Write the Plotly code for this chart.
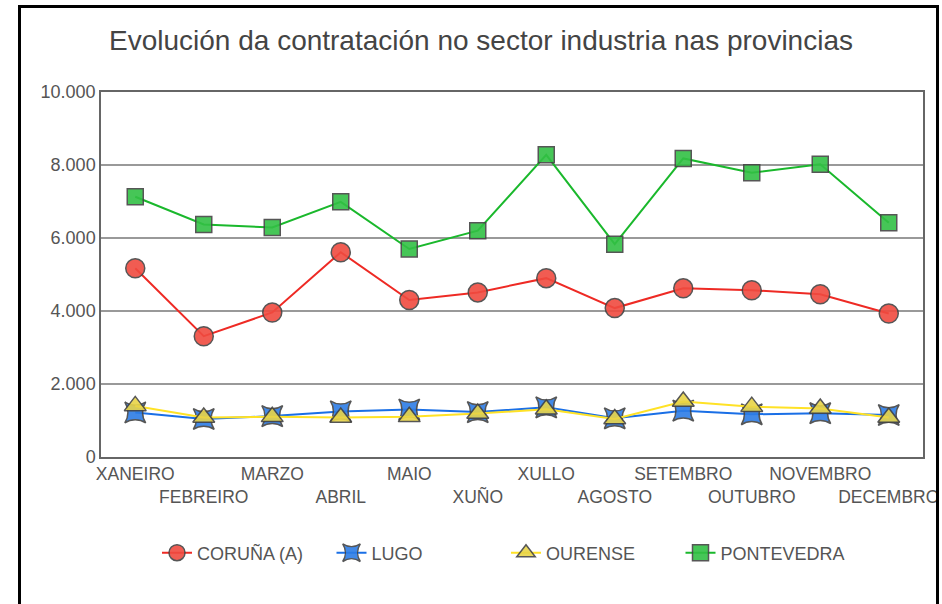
import plotly.graph_objects as go

months = ["XANEIRO", "FEBREIRO", "MARZO", "ABRIL", "MAIO", "XUÑO", "XULLO",
          "AGOSTO", "SETEMBRO", "OUTUBRO", "NOVEMBRO", "DECEMBRO"]

coruna = [5170, 3310, 3960, 5610, 4300, 4510, 4900, 4080, 4620, 4570, 4460, 3930]
lugo = [1220, 1040, 1120, 1250, 1300, 1230, 1360, 1060, 1270, 1170, 1200, 1150]
ourense = [1400, 1080, 1100, 1080, 1100, 1190, 1310, 1040, 1520, 1380, 1330, 1080]
pontevedra = [7130, 6370, 6290, 6990, 5700, 6200, 8280, 5830, 8180, 7790, 8020, 6420]

y_ticks = [0, 2000, 4000, 6000, 8000, 10000]
y_tick_labels = ["0", "2.000", "4.000", "6.000", "8.000", "10.000"]

title_text = "Evolución da contratación no sector industria nas provincias"

FONT = "Liberation Sans, Arial, sans-serif"

series = [
    ("CORUÑA (A)", coruna, "#ee2a24", "#f04b40", "circle", 19),
    ("LUGO", lugo, "#1a6fe6", "#2d7de6", "star-square", 19),
    ("OURENSE", ourense, "#ffe226", "#e8d448", "triangle-up", 19),
    ("PONTEVEDRA", pontevedra, "#1ab82c", "#33c045", "square", 16),
]

fig = go.Figure()
for name, vals, lc, fc, sym, sz in series:
    fig.add_trace(go.Scatter(
        x=months, y=vals, name=name, mode="lines+markers",
        line=dict(color=lc, width=2),
        marker=dict(symbol=sym, size=sz, color=fc, opacity=0.9,
                    line=dict(color="#444444", width=1.5)),
    ))

tick_text = [m if i % 2 == 0 else "<br>" + m for i, m in enumerate(months)]

L, R, T, B = 101, 19, 92, 147
W, H = 942, 604
pw = W - L - R
ph = H - T - B

def px_x(x):
    return (x - L) / pw

def px_y(y):
    return (H - B - y) / ph

fig.update_layout(
    width=W, height=H,
    margin=dict(l=L, r=R, t=T, b=B, pad=0, autoexpand=False),
    paper_bgcolor="white", plot_bgcolor="white",
    font=dict(family=FONT, size=18, color="#555555"),
    title=dict(text=title_text, x=481 / W, xanchor="center", xref="container",
               y=1 - 40 / H, yanchor="middle", yref="container",
               font=dict(family=FONT, size=28, color="#444444")),
    xaxis=dict(type="category", categoryorder="array", categoryarray=months,
               tickmode="array", tickvals=months, ticktext=tick_text,
               tickangle=0, automargin=False,
               range=[-0.5, 11.5], showgrid=False, showline=True,
               linecolor="#666666", linewidth=1.5, mirror=True, ticks="",
               tickfont=dict(family=FONT, size=17.5, color="#555555")),
    yaxis=dict(range=[0, 10000], tickmode="array", tickvals=y_ticks,
               ticktext=y_tick_labels, showgrid=True, gridcolor="#999999",
               gridwidth=1.5, showline=True, linecolor="#666666", linewidth=1.5,
               mirror=True, ticks="", zeroline=False, automargin=False,
               tickfont=dict(family=FONT, size=18, color="#555555")),
    legend=dict(orientation="h", x=px_x(157), xanchor="left",
                y=px_y(553), yanchor="middle", entrywidth=129.5,
                font=dict(family=FONT, size=18, color="#555555"),
                bgcolor="rgba(0,0,0,0)"),
    showlegend=True,
)

fig.add_shape(type="rect", xref="paper", yref="paper",
              x0=px_x(19.5), x1=px_x(937.5), y0=px_y(620), y1=px_y(6.5),
              line=dict(color="black", width=3), fillcolor="rgba(0,0,0,0)",
              layer="above")

fig.write_html("out.html",
               config={"displayModeBar": False},
               post_script="document.body.style.margin='0px';document.body.style.overflow='hidden';")
